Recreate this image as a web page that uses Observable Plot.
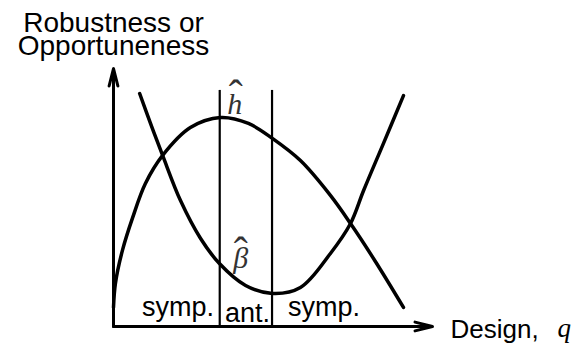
<!DOCTYPE html>
<html>
<head>
<meta charset="utf-8">
<script src="https://cdn.jsdelivr.net/npm/d3@7"></script>
<script src="https://cdn.jsdelivr.net/npm/@observablehq/plot@0.6"></script>
<style>
  html, body { margin: 0; padding: 0; background: #fff; }
</style>
</head>
<body>
<div id="chart"></div>
<script>
// Robustness curve (h-hat), concave
const robustQ = [0, 0.6, 2.8, 6.0, 10.0, 15.4, 24.1, 33.5, 42.3, 49.8, 58.6, 68.0, 74.3, 82.1, 90.9];
const robustV = [7.4, 16.7, 29.5, 42.2, 55.4, 66.3, 77.1, 81.0, 78.7, 72.9, 64.3, 50.8, 39.9, 25.2, 7.4];
// Opportuneness curve (beta-hat), convex
const opportQ = [8.2, 11.6, 15.4, 21.0, 27.3, 33.2, 41.4, 49.8, 58.6, 68.0, 74.3, 78.4, 84.6, 90.9];
const opportV = [90.3, 78.7, 66.3, 48.8, 34.1, 24.4, 15.9, 12.8, 15.1, 28.3, 39.9, 52.7, 70.9, 89.5];
// Region boundaries
const boundaryQ = [33.3, 49.7];
const boundaryTop = 91.5;
// Region labels
const regionLabels = ["symp.", "ant.", "symp."];
const regionQ = [20.2, 42.0, 66.0];
const regionV = [7.4, 5.0, 7.4];
// Curve labels
const curveLabels = ["h", "β"];
const curveLabelQ = [33.3, 33.3];
const curveLabelV = [81.0, 24.4];

const robust = robustQ.map((q, i) => ({q, v: robustV[i]}));
const opport = opportQ.map((q, i) => ({q, v: opportV[i]}));
const regions = regionLabels.map((t, i) => ({t, q: regionQ[i], v: regionV[i]}));
const curveTags = curveLabels.map((t, i) => ({t, q: curveLabelQ[i], v: curveLabelV[i]}));

const sans = "Liberation Sans, Arial, Helvetica, sans-serif";
const serif = "Liberation Serif, DejaVu Serif, serif";
const symStyle = {x: "q", y: "v", fontFamily: serif, fill: "#333", textAnchor: "middle", lineAnchor: "middle"};

const chart = Plot.plot({
  width: 574,
  height: 350,
  marginLeft: 113,
  marginRight: 142,
  marginTop: 68,
  marginBottom: 24,
  x: {domain: [0, 100], axis: null},
  y: {domain: [0, 100], axis: null},
  style: {background: "#fff"},
  marks: [
    Plot.ruleX(boundaryQ, {y1: 0, y2: boundaryTop, stroke: "#000", strokeWidth: 2.2}),
    Plot.line(robust, {x: "q", y: "v", curve: "catmull-rom", stroke: "#000", strokeWidth: 3.5}),
    Plot.line(opport, {x: "q", y: "v", curve: "catmull-rom", stroke: "#000", strokeWidth: 3.5}),
    Plot.arrow([{x1: 0, y1: 0, x2: 0, y2: 100}], {x1: "x1", y1: "y1", x2: "x2", y2: "y2", stroke: "#000", strokeWidth: 3, headLength: 9, headAngle: 28}),
    Plot.arrow([{x1: 0, y1: 0, x2: 100, y2: 0}], {x1: "x1", y1: "y1", x2: "x2", y2: "y2", stroke: "#000", strokeWidth: 3, headLength: 9, headAngle: 28}),
    Plot.text(regions, {x: "q", y: "v", text: "t", fontSize: 27, fontFamily: sans, fill: "#000", textAnchor: "middle", lineAnchor: "middle"}),
    Plot.text(["Robustness or"], {x: () => 0, y: () => 100, text: d => d, fontSize: 28, fontFamily: sans, fill: "#000", textAnchor: "middle", lineAnchor: "middle", dy: -45}),
    Plot.text(["Opportuneness"], {x: () => 0, y: () => 100, text: d => d, fontSize: 28, fontFamily: sans, fill: "#000", textAnchor: "middle", lineAnchor: "middle", dy: -22}),
    Plot.text(["Design,"], {x: () => 100, y: () => 0, text: d => d, fontSize: 26, fontFamily: sans, fill: "#000", textAnchor: "start", lineAnchor: "middle", dx: 18, dy: 3}),
    Plot.text(["q"], {x: () => 100, y: () => 0, text: d => d, fontSize: 27, fontFamily: serif, fontStyle: "italic", fill: "#000", textAnchor: "start", lineAnchor: "middle", dx: 125, dy: 2}),
    // h and beta symbols
    Plot.text([curveTags[0]], {...symStyle, text: "t", fontSize: 30, fontStyle: "italic", dx: 15, dy: -13}),
    Plot.text([curveTags[1]], {...symStyle, text: "t", fontSize: 30, fontStyle: "italic", dx: 21, dy: -5}),
    // wide hats
    Plot.text([curveTags[0]], {...symStyle, text: () => "ˆ", fontSize: 42, dx: 16, dy: -22}),
    Plot.text([curveTags[1]], {...symStyle, text: () => "ˆ", fontSize: 42, dx: 21, dy: -11})
  ]
});
document.getElementById("chart").appendChild(chart);
</script>
</body>
</html>
